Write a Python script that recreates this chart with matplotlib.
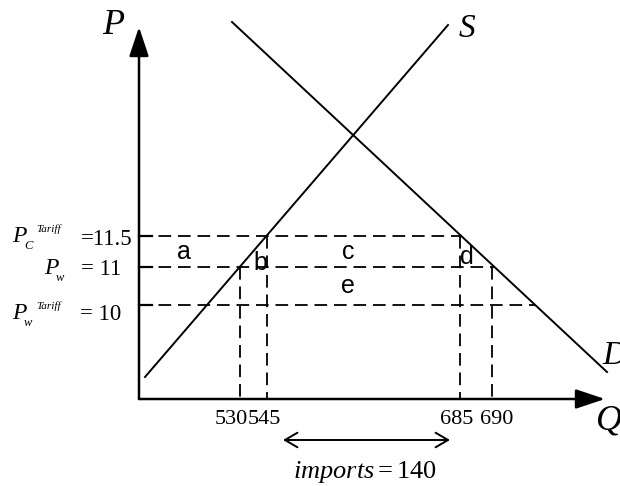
import matplotlib.pyplot as plt

plt.rcParams['mathtext.fontset'] = 'custom'
plt.rcParams['mathtext.it'] = 'Liberation Serif:italic'
plt.rcParams['mathtext.rm'] = 'Liberation Serif'

# schematic diagram: everything lives in a 620 x 486 drawing space
# supply and demand curves (end points)
supply_q = [145, 448]
supply_p = [377, 25]
demand_q = [232, 607]
demand_p = [22, 372]

# price levels (11.5, 11, 10) and where the dashed lines stop
price_y = [236, 267, 305]
price_end = [460, 494, 535]

# quantities 530, 545, 685, 690 and the price each guide starts from
qty_x = [240, 267, 460, 492]
qty_top = [267, 236, 236, 267]
qty_labels = ['530', '545', '685', '690']

area_labels = ['a', 'b', 'c', 'd', 'e']
area_x = [184, 260, 348, 467, 348]
area_y = [252, 263, 252, 257, 286]

origin = (139, 399)
serif = 'Liberation Serif'

fig = plt.figure(figsize=(6.2, 4.86), dpi=100)
ax = fig.add_axes([0, 0, 1, 1])
ax.set_xlim(0, 620)
ax.set_ylim(486, 0)
ax.axis('off')

# axes with arrow heads
arrow = dict(arrowstyle='-|>,head_length=0.9,head_width=0.3', mutation_scale=20,
             lw=1.8, color='k', shrinkA=0, shrinkB=0)
ax.annotate('', xy=(origin[0], 27), xytext=origin, arrowprops=arrow)
ax.annotate('', xy=(605, origin[1]), xytext=origin, arrowprops=arrow)

# curves
ax.plot(supply_q, supply_p, color='k', lw=1.4)
ax.plot(demand_q, demand_p, color='k', lw=1.4)

dash = (0, (7, 3.8))
for y, xe in zip(price_y, price_end):
    ax.plot([origin[0], xe], [y, y], color='k', lw=1.3, ls=dash)
    ax.plot([origin[0], origin[0] + 13], [y, y], color='k', lw=1.6)
for x, yt in zip(qty_x, qty_top):
    ax.plot([x, x], [yt, origin[1]], color='k', lw=1.3, ls=dash)

# axis names
ax.text(113, 25, 'P', family=serif, style='italic', fontsize=26, ha='center', va='center')
ax.text(467, 29, 'S', family=serif, style='italic', fontsize=24, ha='center', va='center')
ax.text(614, 356, 'D', family=serif, style='italic', fontsize=24, ha='center', va='center')
ax.text(609, 421, 'Q', family=serif, style='italic', fontsize=26, ha='center', va='center')

# price labels on the left
def price_label(xp, yp, sub, sup, value, xv, yv):
    ax.text(xp, yp, 'P', family=serif, style='italic', fontsize=17, ha='left', va='center')
    ax.text(xp + 12, yp + 10, sub, family=serif, style='italic', fontsize=9, ha='left', va='center')
    if sup:
        ax.text(xp + 24, yp - 7, sup, family=serif, style='italic', fontsize=8, ha='left', va='center')
    ax.text(xv, yv, value, family=serif, fontsize=16.5, ha='right', va='center')

price_label(12, 236, 'C', 'Tariff', '=11.5', 133, 239)
price_label(44, 268, 'w', '', '= 11', 121, 269)
price_label(12, 313, 'w', 'Tariff', '= 10', 121, 314)

# quantity tick labels
ax.text(248, 419, qty_labels[0], family=serif, fontsize=16, ha='right', va='center')
ax.text(248, 419, qty_labels[1], family=serif, fontsize=16, ha='left', va='center')
ax.text(457, 419, qty_labels[2], family=serif, fontsize=16, ha='center', va='center')
ax.text(497, 419, qty_labels[3], family=serif, fontsize=16, ha='center', va='center')

# area letters
for lab, x, y in zip(area_labels, area_x, area_y):
    ax.text(x, y, lab, family='Liberation Sans', fontsize=18, ha='center', va='center')

# imports arrow
ax.annotate('', xy=(283, 440), xytext=(450, 440),
            arrowprops=dict(arrowstyle='<->,head_length=0.6,head_width=0.35', mutation_scale=15,
                            lw=1.4, color='k', shrinkA=0, shrinkB=0))
ax.text(365, 472, r'$imports = 140$', fontsize=19, ha='center', va='center')

fig.savefig('out.png', dpi=100)
